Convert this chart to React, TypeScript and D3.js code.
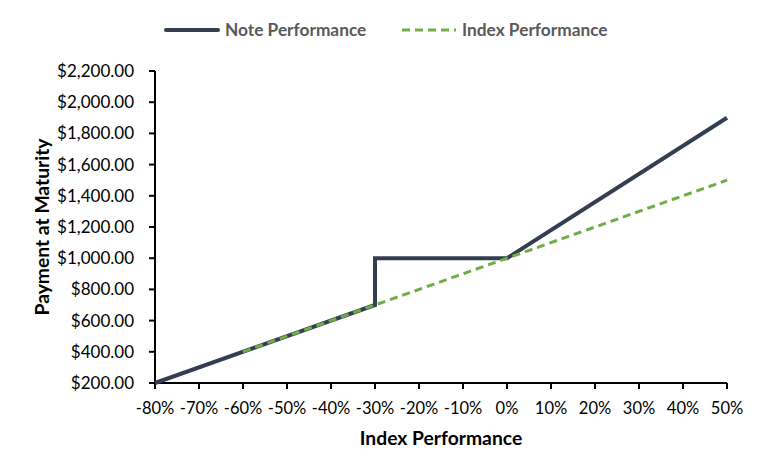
import React from "react";
import * as d3 from "d3";

const noteX = [-0.8, -0.3, -0.3, 0, 0.5];
const noteY = [200, 700, 1000, 1000, 1900];
const indexX = [-0.6, 0.5];
const indexY = [400, 1500];
const xTicks = [-0.8, -0.7, -0.6, -0.5, -0.4, -0.3, -0.2, -0.1, 0, 0.1, 0.2, 0.3, 0.4, 0.5];
const yTicks = [200, 400, 600, 800, 1000, 1200, 1400, 1600, 1800, 2000, 2200];

const W = 766, H = 476;
const left = 155, right = 727, top = 71, bottom = 383;
const font = "Lato, 'Open Sans', sans-serif";

export default function App() {
  const x = d3.scaleLinear().domain([-0.8, 0.5]).range([left, right]);
  const y = d3.scaleLinear().domain([200, 2200]).range([bottom, top]);
  const line = d3.line<[number, number]>().x(d => x(d[0])).y(d => y(d[1]));
  const noteData: [number, number][] = noteX.map((v, i) => [v, noteY[i]]);
  const indexData: [number, number][] = indexX.map((v, i) => [v, indexY[i]]);
  const fmtY = (v: number) => "$" + d3.format(",.2f")(v);
  const fmtX = (v: number) => Math.round(v * 100) + "%";
  return (
    <svg width={W} height={H} style={{ position: "absolute", left: 0, top: 0, background: "#fff" }}>
      <rect width={W} height={H} fill="#fff" />
      {/* axes */}
      <line x1={left} x2={left} y1={top} y2={bottom} stroke="#000" strokeWidth={2} />
      <line x1={left} x2={right} y1={bottom} y2={bottom} stroke="#000" strokeWidth={2} />
      {yTicks.map(t => (
        <g key={"y" + t}>
          <line x1={left - 6} x2={left} y1={y(t)} y2={y(t)} stroke="#000" strokeWidth={2} />
          <text x={left - 21} y={y(t)} dy="0.35em" textAnchor="end" fontFamily={font} fontSize={17} fill="#000">{fmtY(t)}</text>
        </g>
      ))}
      {xTicks.map(t => (
        <g key={"x" + t}>
          <line x1={x(t)} x2={x(t)} y1={bottom} y2={bottom + 6} stroke="#000" strokeWidth={2} />
          <text x={x(t)} y={408} dy="0.35em" textAnchor="middle" fontFamily={font} fontSize={16.5} fill="#000">{fmtX(t)}</text>
        </g>
      ))}
      {/* series */}
      <path d={line(noteData) || ""} fill="none" stroke="#333F50" strokeWidth={4} strokeLinejoin="miter" />
      <path d={line(indexData) || ""} fill="none" stroke="#70AD47" strokeWidth={3} strokeDasharray="8,5" />
      {/* titles */}
      <text x={441} y={438} dy="0.35em" textAnchor="middle" fontFamily={font} fontWeight="bold" fontSize={19.3} fill="#000">Index Performance</text>
      <text transform={`translate(42,227) rotate(-90)`} dy="0.35em" textAnchor="middle" fontFamily={font} fontWeight="bold" fontSize={19.3} fill="#000">Payment at Maturity</text>
      {/* legend */}
      <line x1={166} x2={218} y1={30} y2={30} stroke="#333F50" strokeWidth={4} strokeLinecap="round" />
      <text x={225} y={30} dy="0.35em" fontFamily={font} fontWeight="bold" fontSize={17.3} fill="#595959">Note Performance</text>
      <line x1={402} x2={456} y1={30} y2={30} stroke="#70AD47" strokeWidth={3} strokeDasharray="8,5" />
      <text x={462} y={30} dy="0.35em" fontFamily={font} fontWeight="bold" fontSize={17.3} fill="#595959">Index Performance</text>
    </svg>
  );
}
